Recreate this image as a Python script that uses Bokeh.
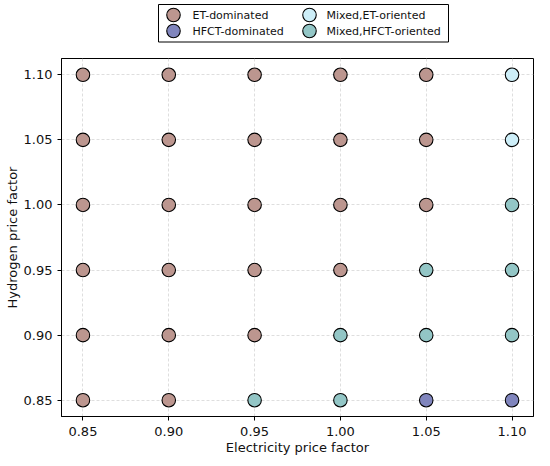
from bokeh.plotting import figure
from bokeh.models import FixedTicker, NumeralTickFormatter, ColumnDataSource, Range1d
from bokeh.layouts import column
from bokeh.core.properties import value
from bokeh.embed import file_html
from bokeh.resources import INLINE

# Data
elec_factors = [0.85, 0.90, 0.95, 1.00, 1.05, 1.10]
hydro_factors = [0.85, 0.90, 0.95, 1.00, 1.05, 1.10]
# regime per (hydrogen row, electricity column)
# E = ET-dominated, H = HFCT-dominated, ME = Mixed,ET-oriented, MH = Mixed,HFCT-oriented
regimes = [
    ["E", "E", "MH", "MH", "H", "H"],     # 0.85
    ["E", "E", "E", "MH", "MH", "MH"],    # 0.90
    ["E", "E", "E", "E", "MH", "MH"],     # 0.95
    ["E", "E", "E", "E", "E", "MH"],      # 1.00
    ["E", "E", "E", "E", "E", "ME"],      # 1.05
    ["E", "E", "E", "E", "E", "ME"],      # 1.10
]
categories = ["E", "H", "ME", "MH"]
category_labels = ["ET-dominated", "HFCT-dominated", "Mixed,ET-oriented", "Mixed,HFCT-oriented"]
category_colors = ["#bc968f", "#8085bd", "#cdeef8", "#93c6c6"]
tick_values = [0.85, 0.90, 0.95, 1.00, 1.05, 1.10]

FONT = "DejaVu Sans"
W = 534
BL, BR = 61, 1
FRAME_W = W - BL - BR
LEG_FIG_H = 44
TOTAL_H = 458

# ---------- legend strip (same borders as main plot, pixel-like ranges) ----------
leg = figure(width=W, height=LEG_FIG_H, output_backend="svg", toolbar_location=None,
             x_range=Range1d(0, FRAME_W), y_range=Range1d(0, LEG_FIG_H),
             min_border_left=BL, min_border_right=BR, min_border_top=0, min_border_bottom=0)
leg.axis.visible = False
leg.grid.visible = False
leg.outline_line_color = None
leg.quad(left=97, right=387, bottom=2.5, top=40, fill_color=None, line_color="black", line_width=1)
col_glyph_x = [112, 248]
col_text_x = [131, 265]
row_y = [29.5, 13.5]
lx, ly, tx, ty, cols = [], [], [], [], []
for k, (lab, color) in enumerate(zip(category_labels, category_colors)):
    c, r = divmod(k, 2)
    lx.append(col_glyph_x[c]); ly.append(row_y[r])
    tx.append(col_text_x[c]); ty.append(row_y[r])
    cols.append(color)
leg.scatter(lx, ly, size=13.5, fill_color=cols, line_color="black", line_width=1.1)
leg.text(tx, ty, text=category_labels, text_font=value(FONT), text_font_size="11px",
         text_baseline="middle", text_align="left", text_color="#111111")

# ---------- main plot ----------
p = figure(width=W, height=TOTAL_H - LEG_FIG_H, output_backend="svg", toolbar_location=None,
           x_range=Range1d(0.8375, 1.1125), y_range=Range1d(0.8375, 1.1125),
           min_border_left=BL, min_border_right=BR, min_border_top=14, min_border_bottom=42)

for cat, color in zip(categories, category_colors):
    xs, ys = [], []
    for i, hy in enumerate(hydro_factors):
        for j, el in enumerate(elec_factors):
            if regimes[i][j] == cat:
                xs.append(el)
                ys.append(hy)
    src = ColumnDataSource(dict(x=xs, y=ys))
    p.scatter("x", "y", source=src, size=13.5, fill_color=color,
              line_color="black", line_width=1.1)

for ax in (p.xaxis, p.yaxis):
    ax.ticker = FixedTicker(ticks=tick_values)
    ax.formatter = NumeralTickFormatter(format="0.00")
    ax.major_label_text_font = FONT
    ax.major_label_text_font_size = "13px"
    ax.major_label_text_color = "#111111"
    ax.axis_label_text_font = FONT
    ax.axis_label_text_font_size = "13px"
    ax.axis_label_text_font_style = "normal"
    ax.axis_label_text_color = "#111111"
    ax.axis_line_color = "black"
    ax.major_tick_out = 4
    ax.major_tick_in = 0
    ax.major_tick_line_color = "black"
    ax.minor_tick_line_color = None

p.xaxis.major_label_standoff = 6
p.xaxis.axis_label_standoff = 1
p.yaxis.major_label_standoff = 5
p.yaxis.axis_label_standoff = 1

p.xaxis.axis_label = "Electricity price factor"
p.yaxis.axis_label = "Hydrogen price factor"

p.outline_line_color = "black"
p.outline_line_width = 1
p.outline_line_alpha = 1

for g in (p.xgrid, p.ygrid):
    g.grid_line_color = "#d6d6d6"
    g.grid_line_dash = "3 2"
    g.grid_line_width = 0.8

layout = column(leg, p, spacing=0)
open("out.html", "w").write(file_html(layout, INLINE))
